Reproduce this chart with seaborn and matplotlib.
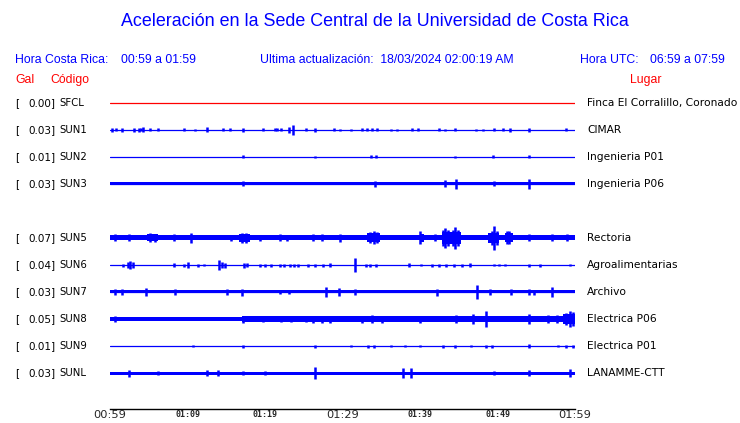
import matplotlib
matplotlib.use('Agg')
import matplotlib.pyplot as plt
import seaborn as sns

sns.set_style('white')
plt.rcParams['font.family'] = ['DejaVu Sans']

# Station info (row 4 is the missing SUN4)
codes = ['SFCL', 'SUN1', 'SUN2', 'SUN3', 'SUN5', 'SUN6', 'SUN7', 'SUN8', 'SUN9', 'SUNL']
gal = [0.00, 0.03, 0.01, 0.03, 0.07, 0.04, 0.03, 0.05, 0.01, 0.03]
places = ['Finca El Corralillo, Coronado', 'CIMAR', 'Ingenieria P01', 'Ingenieria P06',
          'Rectoria', 'Agroalimentarias', 'Archivo', 'Electrica P06', 'Electrica P01', 'LANAMME-CTT']
rows = [0, 1, 2, 3, 5, 6, 7, 8, 9, 10]
trace_colors = ['red'] + ['blue'] * 9

# noise band of each trace: (start minute, end minute, half-amplitude px)
sfcl_floor = []
sun1_floor = []
sun2_floor = []
sun3_floor = [(0, 60, 1.5)]
sun5_floor = [(0, 60, 2.5), (4.8, 6.2, 3.5), (16.6, 18.0, 3.8), (33.2, 34.8, 4.5),
              (40.0, 40.5, 4.0), (42.8, 45.3, 6.0), (48.8, 50.2, 5.0), (51.0, 52.0, 4.5)]
sun6_floor = []
sun7_floor = [(0, 60, 1.5)]
sun8_floor = [(0, 17, 2.0), (17, 60, 2.5), (58.5, 60, 5.0)]
sun9_floor = []
sunl_floor = [(0, 60, 1.5)]
floors = [sfcl_floor, sun1_floor, sun2_floor, sun3_floor, sun5_floor,
          sun6_floor, sun7_floor, sun8_floor, sun9_floor, sunl_floor]

# spikes: (minute after 00:59, half-amplitude px)
sfcl_events = []
sun1_events = [(0.3, 2), (0.8, 1.5), (1.5, 2), (3.1, 2), (3.7, 2), (4.0, 1.5), (4.3, 2.5),
               (5.2, 1.5), (6.2, 1.5), (9.5, 1.5), (11.0, 1), (12.5, 2.5), (14.6, 1.5),
               (15.5, 1.5), (17.1, 2), (19.8, 1.5), (21.3, 1.5), (21.6, 1.5), (22.0, 1.5),
               (23.1, 3), (23.6, 5), (25.3, 1.5), (26.5, 2), (28.9, 1.5), (29.7, 1),
               (31.1, 1), (32.5, 1.5), (33.2, 1.5), (33.8, 1.5), (34.4, 1.5), (36.3, 1),
               (37.0, 1), (39.0, 1.5), (39.7, 1.5), (42.5, 1.5), (43.2, 1), (44.5, 1.5),
               (47.2, 1), (48.1, 1), (49.5, 1.5), (50.7, 1.5), (51.6, 2), (54.0, 2), (58.9, 1.5)]
sun2_events = [(17.1, 1.5), (26.4, 1), (33.7, 1.5), (34.3, 1.5), (44.5, 1), (49.4, 1.5), (54.0, 1.5)]
sun3_events = [(17.1, 2.5), (34.2, 3), (43.2, 3.5), (44.6, 5), (49.6, 2.5), (54.0, 5)]
sun5_events = [(0.6, 3.5), (2.5, 3.5), (5.2, 4.5), (5.8, 4), (8.2, 3.5), (10.4, 5),
               (15.6, 3), (17.0, 5), (17.6, 5), (19.4, 3), (21.9, 3.5), (22.8, 3),
               (26.2, 3.5), (27.4, 3.5), (29.7, 4), (33.6, 5.5), (34.0, 6.5), (34.4, 5.5),
               (40.0, 6.5), (41.9, 3.5), (43.0, 8), (43.2, 10), (43.6, 8), (44.2, 8),
               (44.5, 11), (44.9, 8), (49.3, 7), (49.6, 12), (49.9, 7), (51.2, 6.5),
               (51.5, 6.5), (54.1, 3.5), (57.0, 3.5), (59.0, 3.5)]
sun6_events = [(1.7, 1.5), (2.3, 3), (2.6, 4), (3.0, 3), (8.2, 2), (9.5, 1.5), (10.0, 3),
               (11.3, 1.5), (12.1, 1), (14.1, 4.5), (14.5, 3), (14.8, 2.5), (17.3, 2.5),
               (17.7, 2), (19.4, 1.5), (20.0, 1.5), (20.8, 1.5), (21.9, 1.5), (22.5, 1.5),
               (23.2, 1.5), (23.8, 1.5), (24.3, 1.5), (25.5, 1.5), (26.5, 1.5), (27.5, 1.5),
               (28.4, 2), (31.6, 7), (33.0, 1.5), (33.6, 1.5), (34.3, 1.5), (38.6, 2),
               (40.1, 1), (41.6, 1.5), (42.4, 1.5), (43.3, 1.5), (44.4, 1.5), (45.4, 1.5),
               (46.5, 2), (49.5, 1), (50.2, 1), (51.0, 1), (54.0, 1.5), (55.5, 1.5), (59.3, 1)]
sun7_events = [(0.7, 3), (1.6, 3), (4.7, 4), (8.4, 3), (15.1, 3), (17.0, 3.5), (21.9, 2),
               (23.1, 2), (27.9, 5), (29.5, 4), (31.6, 3), (42.2, 3.5), (47.3, 7), (49.0, 3),
               (51.8, 3), (54.1, 3), (54.7, 2.5), (57.0, 5)]
sun8_events = [(0.7, 3), (17.1, 3.5), (19.8, 3), (22.1, 3), (23.3, 3), (25.3, 3), (26.2, 3.5),
               (27.3, 3.5), (28.4, 3.5), (32.5, 3.5), (33.8, 4), (35.1, 3.5), (40.0, 3.5),
               (44.6, 4), (46.9, 5), (48.5, 8), (54.1, 5), (56.5, 4), (57.7, 4), (58.9, 6),
               (59.4, 8), (59.8, 7)]
sun9_events = [(10.7, 0.7), (17.1, 1.5), (26.4, 1.5), (31.1, 1), (33.3, 1.5), (34.0, 1.5),
               (36.3, 1), (38.0, 1), (40.0, 1), (43.0, 1.5), (44.5, 1.5), (46.6, 1), (48.5, 1.5),
               (49.3, 1.5), (54.1, 2), (57.8, 1), (58.9, 1.5), (59.8, 1.5)]
sunl_events = [(2.5, 3.5), (6.2, 2), (12.5, 2.5), (13.9, 2.5), (17.2, 2), (20.0, 2), (26.5, 5.5),
               (37.8, 5), (38.9, 5), (49.6, 2), (54.1, 3), (59.4, 4)]
events = [sfcl_events, sun1_events, sun2_events, sun3_events, sun5_events,
          sun6_events, sun7_events, sun8_events, sun9_events, sunl_events]

tick_minutes = list(range(0, 61, 5))
tick_labels = ['00:59', '', '01:09', '', '01:19', '', '01:29', '', '01:39', '', '01:49', '', '01:59']
big_labels = ['00:59', '01:29', '01:59']

W, H = 740, 423
ROW_PX = 27.0
fig = plt.figure(figsize=(W / 100, H / 100), dpi=100)
ax = fig.add_axes([110 / W, 14 / H, 465 / W, 319 / H])


def ftext(x, y, s, **kw):
    fig.text(x / W, 1 - y / H, s, va='center', **kw)


for row, color, fl, ev in zip(rows, trace_colors, floors, events):
    sns.lineplot(x=[0, 60], y=[row, row], color=color, lw=0.9, ax=ax)
    for t0, t1, a in fl:
        ax.fill_between([t0, t1], row - a / ROW_PX, row + a / ROW_PX, color=color, lw=0)
    if ev:
        ts = [e[0] for e in ev]
        amps = [e[1] / ROW_PX for e in ev]
        ax.vlines(ts, [row - a for a in amps], [row + a for a in amps], color=color, lw=1.8)

ax.set_xlim(0, 60)
ax.set_ylim((409 - 103) / ROW_PX, (90 - 103) / ROW_PX)
ax.set_yticks([])
for side in ['top', 'left', 'right']:
    ax.spines[side].set_visible(False)
ax.spines['bottom'].set_color('black')
ax.spines['bottom'].set_linewidth(1.0)
ax.set_xticks(tick_minutes)
ax.set_xticklabels(tick_labels)
ax.tick_params(axis='x', direction='in', length=7, width=0.8, color='black', pad=0.5)
for lab in ax.get_xticklabels():
    if lab.get_text() in big_labels:
        lab.set_fontsize(8.2)
    else:
        lab.set_fontsize(6)
        lab.set_family('DejaVu Sans Mono')
        lab.set_fontweight('bold')
ax.set_xlabel('')
ax.set_ylabel('')

# header texts
blue = '#0000ff'
red = '#ff0000'
fig.text(375 / W, 1 - 22 / H, 'Aceleración en la Sede Central de la Universidad de Costa Rica',
         ha='center', va='center', color=blue, fontsize=12.9, family='Liberation Sans')
ftext(15, 60, 'Hora Costa Rica:', color=blue, fontsize=8.8, family='Liberation Sans')
ftext(121, 60, '00:59 a 01:59', color=blue, fontsize=8.8, family='Liberation Sans')
ftext(260, 60, 'Ultima actualización:  18/03/2024 02:00:19 AM', color=blue, fontsize=8.8,
      family='Liberation Sans')
ftext(580, 60, 'Hora UTC:', color=blue, fontsize=8.8, family='Liberation Sans')
ftext(650, 60, '06:59 a 07:59', color=blue, fontsize=8.8, family='Liberation Sans')
ftext(15, 80, 'Gal', color=red, fontsize=8.8, family='Liberation Sans')
ftext(50, 80, 'Código', color=red, fontsize=8.8, family='Liberation Sans')
ftext(630, 80, 'Lugar', color=red, fontsize=8.8, family='Liberation Sans')

# station labels
for code, g, place, row in zip(codes, gal, places, rows):
    y = 103 + ROW_PX * row
    ftext(15, y, '[', fontsize=7.5, color='black')
    ftext(28, y, f'{g:.2f}]', fontsize=7.5, color='black')
    ftext(59, y, code, fontsize=7.3, color='black')
    ftext(587, y, place, fontsize=7.7, color='black')

fig.savefig('out.png', dpi=100)
